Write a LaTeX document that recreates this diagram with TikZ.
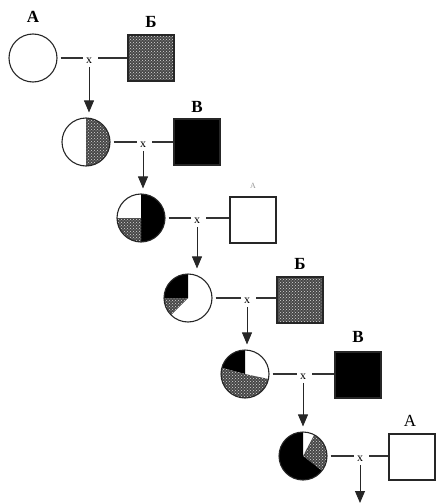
\documentclass[tikz,border=0pt]{standalone}
\usepackage{fontspec}
\setmainfont{Liberation Serif}
\usetikzlibrary{positioning,patterns,arrows.meta}

% one sector of a female symbol, drawn inside its path picture
\newcommand{\pieslice}[3]{%
  \fill[#1] (path picture bounding box.center) -- ++(#2:30pt)
    arc[start angle=#2, end angle=#3, radius=30pt] -- cycle;}

\tikzset{
  female/.style={circle, draw=black!85, line width=1.1pt, minimum size=48pt, inner sep=0pt},
  male/.style={rectangle, draw=black!85, line width=1.1pt, minimum size=46pt, inner sep=0pt},
  mottled/.style={fill=black!72, postaction={pattern=crosshatch dots, pattern color=white!85!black}},
  stippled/.style={path picture={\fill[mottled] (path picture bounding box.south west)
      rectangle (path picture bounding box.north east);}},
  cross/.style={font=\large, inner sep=3pt},
  breed/.style={font=\fontsize{17}{17}\selectfont\bfseries, inner sep=1pt},
  mate/.style={line width=1.3pt, black!80, shorten <=3pt},
  child/.style={line width=0.9pt, black!85, -{Triangle[width=10pt,length=12pt]}, shorten >=5pt},
}

\begin{document}
\begin{tikzpicture}[x=1pt, y=1pt]
  \useasboundingbox (0,0) rectangle (436,-503);

  % females, one per generation
  \node[female] (f1) at (33,-58) {};
  \node[female, path picture={\pieslice{mottled}{90}{-90}}] (f2) at (86,-142) {};
  \node[female, path picture={\pieslice{black}{90}{-90}\pieslice{mottled}{180}{270}}] (f3) at (141,-218) {};
  \node[female, path picture={\pieslice{black}{90}{180}\pieslice{mottled}{180}{225}}] (f4) at (188,-298) {};
  \node[female, path picture={\pieslice{black}{90}{165}\pieslice{mottled}{165}{348}}] (f5) at (245,-374) {};
  \node[female, path picture={\pieslice{mottled}{-38}{62}\pieslice{black}{90}{322}}] (f6) at (303,-456) {};

  % males
  \node[male, stippled] (m1) at (151,-58) {};
  \node[male, fill=black] (m2) at (197,-142) {};
  \node[male] (m3) at (253,-220) {};
  \node[male, stippled] (m4) at (300,-300) {};
  \node[male, fill=black] (m5) at (358,-375) {};
  \node[male] (m6) at (412,-457) {};

  % breed letters
  \node[breed, above=10pt of f1] (l1) {А};
  \node[breed, above=6pt of m1] (l2) {Б};
  \node[breed, above=5pt of m2] (l3) {В};
  \node[font=\footnotesize, text=black!40, above=4pt of m3] (l4) {А};
  \node[breed, above=6pt of m4] (l5) {Б};
  \node[breed, above=8pt of m5] (l6) {В};
  \node[breed, font=\fontsize{17}{17}\selectfont, above=6pt of m6, xshift=-2pt] (l7) {А};

  % crosses
  \foreach \i/\px in {1/89, 2/143, 3/197, 4/247, 5/303, 6/360} {
    \node[cross] (x\i) at (\px, 0 |- f\i) [yshift=-3pt] {x};
    \draw[mate] (f\i) -- (f\i -| x\i.west);
    \draw[mate] (f\i -| x\i.east) -- (f\i -| m\i.west);
  }

  % offspring arrows
  \foreach \i/\j in {1/2, 2/3, 3/4, 4/5, 5/6}
    \draw[child] (x\i) -- (x\i |- f\j.north);
  \coordinate (end6) at (360,-503);
  \draw[child, shorten >=0pt] (x6) -- (end6);
\end{tikzpicture}
\end{document}
